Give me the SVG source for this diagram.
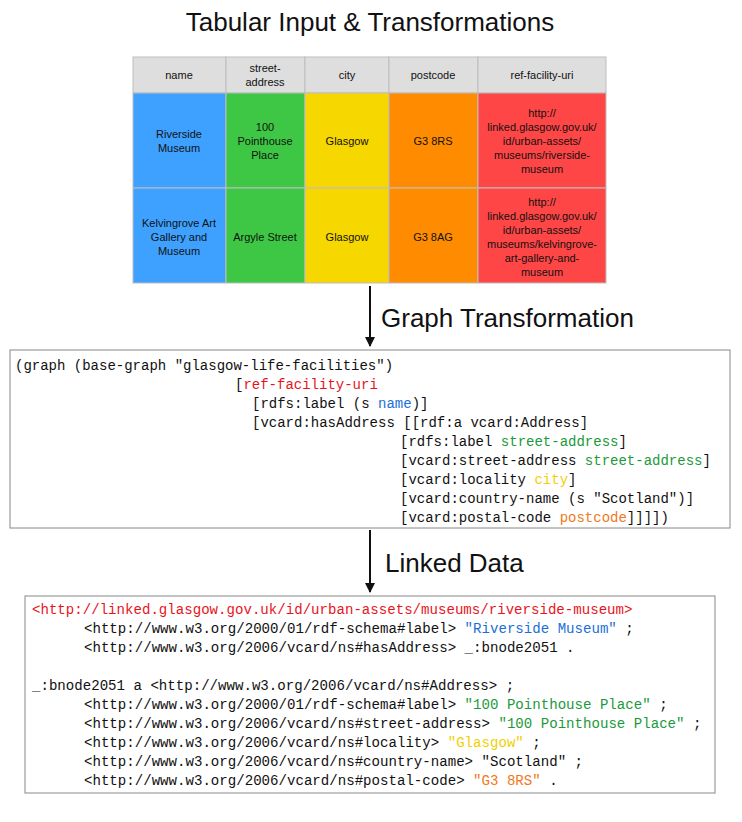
<svg xmlns="http://www.w3.org/2000/svg" width="742" height="822" viewBox="0 0 742 822">
<defs>
<style>
.t{font-family:"Liberation Sans",Arial,sans-serif;fill:#111}
.h{font-size:26px;font-family:"Liberation Sans",Arial,sans-serif;fill:#111}
.c{font-size:11px;text-anchor:middle}
.m{font-family:"Liberation Mono","DejaVu Sans Mono",monospace;font-size:14px;fill:#111;white-space:pre}
.m2{font-size:14.1px}
.r{fill:#e8141c}.b{fill:#1a6fd6}.g{fill:#1a9a3a}.y{fill:#f2cf00}.o{fill:#f07820}
.cell{stroke:#bdbdbd;stroke-width:1}
.box{fill:#fff;stroke:#888;stroke-width:1}
</style>
<marker id="ah" markerWidth="10" markerHeight="10" refX="9" refY="5" orient="auto" markerUnits="userSpaceOnUse"><path d="M0,0 L10,5 L0,10 z" fill="#111"/></marker>
</defs>
<rect width="742" height="822" fill="#fff"/>
<text class="h" x="370" y="31" text-anchor="middle">Tabular Input &amp; Transformations</text>
<g id="table" class="t">
<g class="cell">
<rect x="133" y="57" width="93" height="36" fill="#dedede"/><rect x="226" y="57" width="79" height="36" fill="#dedede"/><rect x="305" y="57" width="84" height="36" fill="#dedede"/><rect x="389" y="57" width="89" height="36" fill="#dedede"/><rect x="478" y="57" width="128" height="36" fill="#dedede"/>
<rect x="133" y="93" width="93" height="95" fill="#3ea1ff"/><rect x="226" y="93" width="79" height="95" fill="#3ec744"/><rect x="305" y="93" width="84" height="95" fill="#f7d700"/><rect x="389" y="93" width="89" height="95" fill="#ff8c00"/><rect x="478" y="93" width="128" height="95" fill="#ff4646"/>
<rect x="133" y="188" width="93" height="95" fill="#3ea1ff"/><rect x="226" y="188" width="79" height="95" fill="#3ec744"/><rect x="305" y="188" width="84" height="95" fill="#f7d700"/><rect x="389" y="188" width="89" height="95" fill="#ff8c00"/><rect x="478" y="188" width="128" height="95" fill="#ff4646"/>
</g>
<g class="c">
<text x="179" y="79">name</text>
<text x="265" y="72">street-</text><text x="265" y="86">address</text>
<text x="347" y="79">city</text>
<text x="433" y="79">postcode</text>
<text x="542" y="79">ref-facility-uri</text>
<text x="179" y="138">Riverside</text><text x="179" y="152">Museum</text>
<text x="265" y="131">100</text><text x="265" y="145">Pointhouse</text><text x="265" y="159">Place</text>
<text x="347" y="145">Glasgow</text>
<text x="433" y="145">G3 8RS</text>
<text x="542" y="117">http://</text><text x="542" y="131">linked.glasgow.gov.uk/</text><text x="542" y="145">id/urban-assets/</text><text x="542" y="159">museums/riverside-</text><text x="542" y="173">museum</text>
<text x="179" y="227">Kelvingrove Art</text><text x="179" y="241">Gallery and</text><text x="179" y="255">Museum</text>
<text x="265" y="241">Argyle Street</text>
<text x="347" y="241">Glasgow</text>
<text x="433" y="241">G3 8AG</text>
<text x="542" y="206">http://</text><text x="542" y="220">linked.glasgow.gov.uk/</text><text x="542" y="234">id/urban-assets/</text><text x="542" y="248">museums/kelvingrove-</text><text x="542" y="262">art-gallery-and-</text><text x="542" y="276">museum</text>
</g>
</g>
<g id="connectors">
<line x1="370" y1="286" x2="370" y2="346" stroke="#111" stroke-width="2" marker-end="url(#ah)"/>
<line x1="370" y1="530" x2="370" y2="592" stroke="#111" stroke-width="2" marker-end="url(#ah)"/>
<text class="h" x="381" y="327">Graph Transformation</text>
<text class="h" x="385" y="572">Linked Data</text>
</g>
<g id="graph-code">
<rect class="box" x="10" y="350" width="720" height="178"/>
<text class="m" x="15" y="370">(graph (base-graph "glasgow-life-facilities")</text>
<text class="m" x="235" y="389">[<tspan class="r">ref-facility-uri</tspan></text>
<text class="m" x="252" y="408">[rdfs:label (s <tspan class="b">name</tspan>)]</text>
<text class="m" x="252" y="427">[vcard:hasAddress [[rdf:a vcard:Address]</text>
<text class="m" x="400" y="446">[rdfs:label <tspan class="g">street-address</tspan>]</text>
<text class="m" x="400" y="465">[vcard:street-address <tspan class="g">street-address</tspan>]</text>
<text class="m" x="400" y="484">[vcard:locality <tspan class="y">city</tspan>]</text>
<text class="m" x="400" y="503">[vcard:country-name (s "Scotland")]</text>
<text class="m" x="400" y="522">[vcard:postal-code <tspan class="o">postcode</tspan>]]]])</text>
</g>
<g id="linked-data">
<rect class="box" x="25" y="596" width="690" height="197"/>
<text class="m m2" x="32" y="614"><tspan class="r">&lt;http://linked.glasgow.gov.uk/id/urban-assets/museums/riverside-museum&gt;</tspan></text>
<text class="m m2" x="84" y="633">&lt;http://www.w3.org/2000/01/rdf-schema#label&gt; <tspan class="b">"Riverside Museum"</tspan> ;</text>
<text class="m m2" x="84" y="652">&lt;http://www.w3.org/2006/vcard/ns#hasAddress&gt; _:bnode2051 .</text>
<text class="m m2" x="32" y="690">_:bnode2051 a &lt;http://www.w3.org/2006/vcard/ns#Address&gt; ;</text>
<text class="m m2" x="84" y="709">&lt;http://www.w3.org/2000/01/rdf-schema#label&gt; <tspan class="g">"100 Pointhouse Place"</tspan> ;</text>
<text class="m m2" x="84" y="728">&lt;http://www.w3.org/2006/vcard/ns#street-address&gt; <tspan class="g">"100 Pointhouse Place"</tspan> ;</text>
<text class="m m2" x="84" y="747">&lt;http://www.w3.org/2006/vcard/ns#locality&gt; <tspan class="y">"Glasgow"</tspan> ;</text>
<text class="m m2" x="84" y="766">&lt;http://www.w3.org/2006/vcard/ns#country-name&gt; "Scotland" ;</text>
<text class="m m2" x="84" y="785">&lt;http://www.w3.org/2006/vcard/ns#postal-code&gt; <tspan class="o">"G3 8RS"</tspan> .</text>
</g>
</svg>
